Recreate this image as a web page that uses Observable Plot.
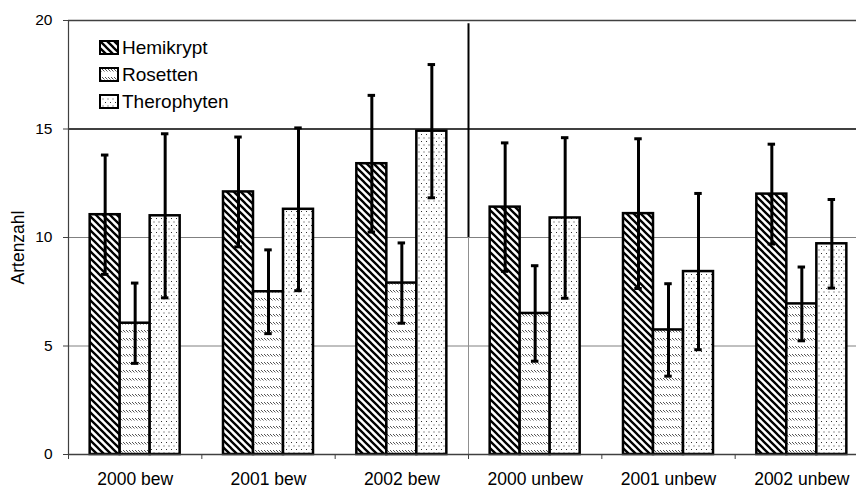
<!DOCTYPE html>
<html><head><meta charset="utf-8">
<script src="https://cdn.jsdelivr.net/npm/d3@7"></script>
<script src="https://cdn.jsdelivr.net/npm/@observablehq/plot@0.6"></script>
<style>
body{margin:0;background:#fff;font-family:"Liberation Sans",Arial,sans-serif;}
#wrap{position:relative;width:856px;height:489px;overflow:hidden;}
#legend{position:absolute;left:99px;top:34px;}
.item{display:flex;align-items:center;height:27px;font-size:19px;color:#000;line-height:1;}
.item svg{margin-right:3px;display:block;}
</style></head><body>
<svg width="0" height="0" style="position:absolute"><defs>
  <pattern id="pHemi" width="7" height="7" patternUnits="userSpaceOnUse">
    <rect width="7" height="7" fill="#fff"/>
    <path d="M-1,-1 L8,8 M-1,6 L1,8 M6,-1 L8,1" stroke="#000" stroke-width="2.3"/>
  </pattern>
  <pattern id="pRos" width="3" height="8" patternUnits="userSpaceOnUse">
    <rect width="3" height="8" fill="#fff"/>
    <path d="M0,2 L2.5,4.5" stroke="#555" stroke-width="1"/>
  </pattern>
  <pattern id="pThero" width="5" height="7" patternUnits="userSpaceOnUse">
    <rect width="5" height="7" fill="#fff"/>
    <rect x="1" y="1" width="1" height="1" fill="#333"/>
    <rect x="3.5" y="4.5" width="1" height="1" fill="#333"/>
  </pattern>
</defs></svg>
<div id="wrap"><div id="legend"></div></div>
<script>
const groups = ["2000 bew", "2001 bew", "2002 bew", "2000 unbew", "2001 unbew", "2002 unbew"];
const series = ["Hemikrypt", "Rosetten", "Therophyten"];
const hemikrypt      = [11.05, 12.1, 13.4, 11.4, 11.1, 12.0];
const hemikryptErr   = [2.75, 2.53, 3.15, 2.96, 3.45, 2.3];
const rosetten       = [6.05, 7.5, 7.9, 6.5, 5.74, 6.94];
const rosettenErr    = [1.85, 1.93, 1.85, 2.2, 2.13, 1.7];
const therophyten    = [11.0, 11.3, 14.9, 10.9, 8.43, 9.71];
const therophytenErr = [3.78, 3.75, 3.07, 3.7, 3.6, 2.04];
const yTicks = [0, 5, 10, 15, 20];
const yLabel = "Artenzahl";

const values = [hemikrypt, rosetten, therophyten];
const errors = [hemikryptErr, rosettenErr, therophytenErr];
const patterns = ["url(#pHemi)", "url(#pRos)", "url(#pThero)"];

const data = groups.flatMap((g, gi) => series.map((s, si) => ({
  group: g, gi, series: s, si, value: values[si][gi], err: errors[si][gi]
})));

// layout fractions within a group slot
const barFrac = 0.225, offFrac = 0.1625, capHalf = 0.028;
const x1 = d => d.gi + offFrac + d.si * barFrac;
const x2 = d => d.gi + offFrac + (d.si + 1) * barFrac;
const xc = d => d.gi + offFrac + (d.si + 0.5) * barFrac;

const chart = Plot.plot({
  width: 856, height: 489,
  marginTop: 20, marginBottom: 35, marginLeft: 68, marginRight: -12,
  style: {fontFamily: "Liberation Sans, Arial, sans-serif", background: "white", color: "#000"},
  x: {domain: [0, groups.length]},
  y: {domain: [0, 20]},
  color: {type: "identity"},
  marks: [
    Plot.ruleY([5, 10], {stroke: "#808080", strokeWidth: 1}),
    Plot.ruleY([20], {stroke: "#404040", strokeWidth: 1.5}),
    Plot.ruleY([15], {stroke: "#000", strokeWidth: 1.5}),
    Plot.ruleX([3], {y1: 0, y2: 10, stroke: "#909090", strokeWidth: 1}),
    Plot.ruleX([3], {y1: 10, y2: 19.85, stroke: "#000", strokeWidth: 2}),
    Plot.rect(data, {x1, x2, y1: 0, y2: "value", fill: d => patterns[d.si], stroke: "#000", strokeWidth: 2.5}),
    Plot.ruleX(data, {x: xc, y1: d => d.value - d.err, y2: d => d.value + d.err, stroke: "#000", strokeWidth: 3}),
    Plot.ruleY(data, {y: d => d.value + d.err, x1: d => xc(d) - capHalf, x2: d => xc(d) + capHalf, stroke: "#000", strokeWidth: 3}),
    Plot.ruleY(data, {y: d => d.value - d.err, x1: d => xc(d) - capHalf, x2: d => xc(d) + capHalf, stroke: "#000", strokeWidth: 3}),
    Plot.ruleX([0], {y1: 0, y2: 20, stroke: "#404040", strokeWidth: 1.2}),
    Plot.ruleY([0], {stroke: "#404040", strokeWidth: 1.5}),
    Plot.axisY({ticks: yTicks, tickSize: 5, tickPadding: 11, fontSize: 15, label: null, stroke: "#404040"}),
    Plot.axisX({ticks: d3.range(0, groups.length + 1), tickSize: 5, tickFormat: () => "", label: null, stroke: "#404040"}),
    Plot.axisX({ticks: groups.map((g, i) => i + 0.5), tickSize: 0, tickPadding: 18, tickFormat: v => groups[Math.floor(v)], fontSize: 17, label: null}),
    Plot.text([yLabel], {text: d => d, frameAnchor: "left", textAnchor: "middle", rotate: -90, dx: -50, dy: 10, fill: "#000"})
  ]
});
const sel = d3.select(chart);
sel.selectAll('g[aria-label="y-axis tick label"] text').style("font-size", "15.5px");
sel.selectAll('g[aria-label="x-axis tick label"] text').style("font-size", "17.5px");
sel.selectAll('g[aria-label="text"] text').style("font-size", "17.5px");
document.getElementById("wrap").prepend(chart);

const legend = document.getElementById("legend");
series.forEach((s, i) => {
  const item = document.createElement("div");
  item.className = "item";
  item.innerHTML = `<svg width="20" height="15"><rect x="1" y="1" width="18" height="13" fill="${patterns[i]}" stroke="#000" stroke-width="2"/></svg><span>${s}</span>`;
  legend.appendChild(item);
});
</script>
</body></html>
